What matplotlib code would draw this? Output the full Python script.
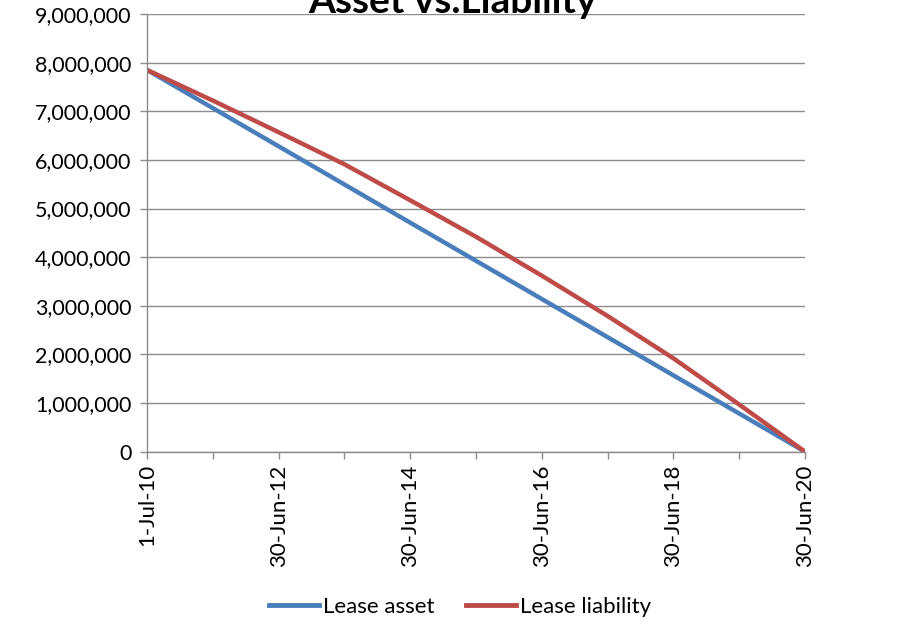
import matplotlib
matplotlib.use("Agg")
import matplotlib.pyplot as plt
from matplotlib.ticker import FuncFormatter, MultipleLocator

plt.rcParams['font.family'] = ['Lato', 'DejaVu Sans']

dates = ['1-Jul-10', '30-Jun-11', '30-Jun-12', '30-Jun-13', '30-Jun-14', '30-Jun-15',
         '30-Jun-16', '30-Jun-17', '30-Jun-18', '30-Jun-19', '30-Jun-20']
lease_asset = [7850000, 7065000, 6280000, 5495000, 4710000, 3925000,
               3140000, 2355000, 1570000, 785000, 0]
lease_liability = [7850000, 7220000, 6570000, 5910000, 5170000, 4420000,
                   3620000, 2790000, 1920000, 970000, 0]

fig = plt.figure(figsize=(9.05, 6.35), dpi=100)
ax = fig.add_axes([147/905, 1-451.7/635, (805-147)/905, (451.7-14)/635])

x = list(range(len(dates)))
ax.plot(x, lease_asset, color='#4A7EBB', lw=3.2, label='Lease asset')
ax.plot(x, lease_liability, color='#BE4B48', lw=3.2, label='Lease liability')

ax.set_xlim(0, len(dates)-1)
ax.set_ylim(0, 9000000)
ax.yaxis.set_major_locator(MultipleLocator(1000000))
ax.yaxis.set_major_formatter(FuncFormatter(lambda v, p: f"{int(v):,}"))
ax.grid(axis='y', color='#8C8C8C', lw=1)
ax.set_axisbelow(True)

ax.set_xticks(x)
ax.set_xticklabels([d if i % 2 == 0 else '' for i, d in enumerate(dates)], rotation=90)

for s in ['top', 'right']:
    ax.spines[s].set_visible(False)
for s in ['left', 'bottom']:
    ax.spines[s].set_color('#8C8C8C')
    ax.spines[s].set_linewidth(1)

ax.tick_params(axis='both', colors='#8C8C8C', length=5, width=1, labelcolor='black')
ax.tick_params(axis='y', pad=6, labelsize=15.5)
ax.tick_params(axis='x', pad=4, labelsize=16)

fig.text(0.5, 1-13/635, 'Asset vs.Liability', ha='center', va='baseline',
         fontsize=28, fontweight='bold')

leg = fig.legend(loc='center', bbox_to_anchor=(460/905, 1-607/635), ncol=2, frameon=False,
                 fontsize=16, handlelength=2.25, handletextpad=0.15, columnspacing=1.45)
for l in leg.get_lines():
    l.set_linewidth(3.5)

fig.savefig('out.png', dpi=100)
